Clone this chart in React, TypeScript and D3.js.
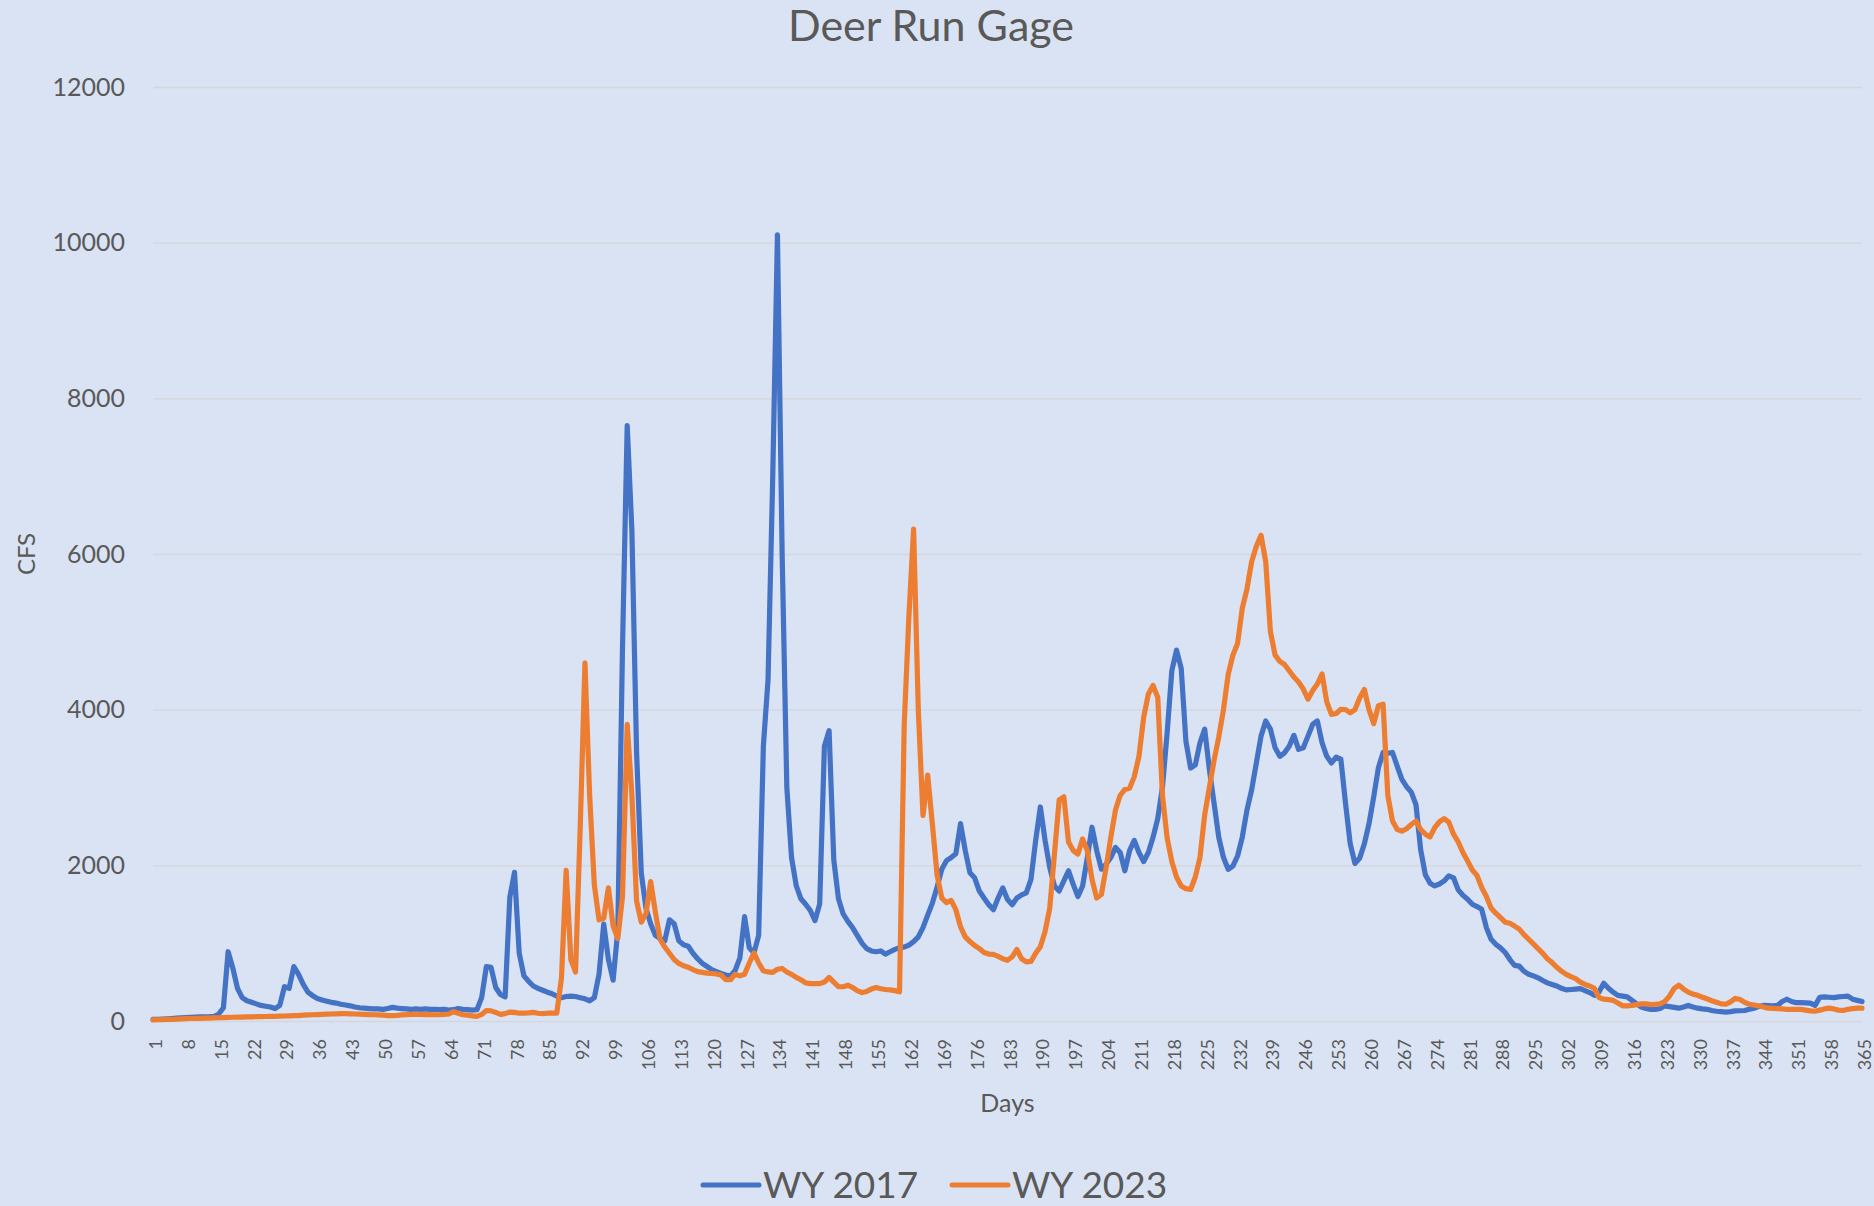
import React, { useEffect, useRef } from 'react';
import * as d3 from 'd3';

// daily flow (cfs), day 1..365
const wy2017 = [
  20, 22, 25, 28, 32, 36, 40, 45, 48, 50,
  52, 54, 55, 58, 90, 170, 890, 680, 420, 300,
  260, 240, 220, 200, 190, 180, 160, 200, 440, 420,
  700, 600, 470, 370, 325, 290, 270, 255, 240, 230,
  215, 205, 195, 180, 170, 165, 160, 155, 155, 150,
  160, 175, 165, 160, 155, 150, 155, 150, 155, 150,
  150, 145, 150, 140, 145, 160, 150, 145, 140, 145,
  300, 700, 690, 430, 340, 310, 1590, 1910, 870, 580,
  510, 450, 420, 395, 370, 350, 320, 300, 315, 320,
  315, 300, 285, 260, 300, 600, 1245, 790, 525, 1165,
  4800, 7650, 6300, 3450, 1900, 1450, 1250, 1100, 1060, 1030,
  1300, 1250, 1030, 980, 960, 870, 800, 740, 700, 660,
  635, 610, 590, 580, 650, 810, 1340, 940, 875, 1100,
  3530, 4390, 7000, 10100, 6000, 3000, 2100, 1740, 1570, 1500,
  1420, 1290, 1505, 3530, 3730, 2070, 1570, 1375, 1280, 1200,
  1100, 1000, 930, 900, 890, 900, 860, 890, 920, 940,
  950, 975, 1020, 1080, 1200, 1360, 1515, 1720, 1950, 2060,
  2100, 2150, 2535, 2190, 1905, 1840, 1670, 1580, 1495, 1430,
  1580, 1710, 1560, 1495, 1580, 1620, 1645, 1820, 2320, 2750,
  2320, 1970, 1735, 1670, 1800, 1930, 1755, 1600, 1735, 2100,
  2490, 2190, 1950, 2015, 2100, 2230, 2165, 1930, 2190, 2320,
  2165, 2050, 2165, 2360, 2600, 3000, 3700, 4500, 4765, 4530,
  3595, 3250, 3290, 3575, 3750, 3230, 2795, 2360, 2100, 1950,
  1990, 2120, 2360, 2710, 2970, 3315, 3660, 3855, 3750, 3510,
  3400, 3445, 3530, 3670, 3490, 3510, 3660, 3810, 3855, 3575,
  3400, 3315, 3390, 3365, 2795, 2275, 2025, 2090, 2275, 2535,
  2880, 3255, 3450, 3440, 3450, 3275, 3105, 3010, 2940, 2780,
  2200, 1880, 1770, 1735, 1760, 1800, 1865, 1840, 1685, 1615,
  1565, 1500, 1470, 1435, 1200, 1050, 985, 940, 880, 790,
  715, 705, 640, 600, 580, 555, 520, 490, 470, 450,
  420, 400, 405, 410, 415, 390, 365, 330, 375, 485,
  420, 370, 330, 320, 310, 265, 220, 180, 160, 150,
  150, 160, 195, 185, 175, 165, 180, 200, 180, 165,
  155, 150, 135, 125, 120, 115, 120, 130, 132, 135,
  150, 165, 185, 200, 198, 195, 200, 250, 280, 250,
  235, 235, 232, 230, 200, 305, 310, 305, 300, 310,
  315, 320, 280, 265, 250
];

const wy2023 = [
  15, 16, 18, 20, 22, 25, 27, 30, 32, 34,
  35, 37, 38, 40, 42, 44, 46, 48, 50, 50,
  52, 54, 55, 57, 58, 60, 60, 62, 64, 66,
  68, 70, 75, 78, 80, 83, 86, 88, 90, 92,
  95, 95, 92, 90, 88, 85, 82, 80, 78, 75,
  70, 68, 72, 78, 82, 85, 85, 84, 83, 82,
  80, 80, 85, 90, 120, 100, 80, 75, 65, 60,
  85, 135, 130, 110, 85, 95, 115, 110, 100, 100,
  105, 110, 100, 95, 100, 100, 100, 550, 1935, 790,
  630, 2500, 4600, 2900, 1750, 1300, 1320, 1710, 1220, 1060,
  1600, 3810, 2900, 1540, 1270, 1380, 1790, 1400, 1050, 950,
  870, 790, 740, 710, 690, 660, 635, 625, 615, 610,
  605, 590, 530, 530, 600, 580, 600, 745, 875, 745,
  645, 630, 625, 665, 675, 630, 600, 560, 530, 490,
  480, 480, 480, 500, 560, 500, 440, 440, 460, 430,
  390, 365, 380, 410, 430, 415, 405, 400, 390, 375,
  3800, 5200, 6320, 4000, 2640, 3160, 2530, 1880, 1580, 1520,
  1550, 1430, 1210, 1080, 1020, 970, 930, 880, 860, 855,
  830, 800, 780, 825, 920, 800, 760, 765, 870, 955,
  1150, 1450, 2145, 2840, 2880, 2300, 2190, 2145, 2340, 2190,
  1820, 1580, 1625, 1970, 2360, 2710, 2900, 2975, 2990, 3140,
  3400, 3900, 4200, 4310, 4160, 2900, 2350, 2050, 1850, 1735,
  1700, 1690, 1850, 2100, 2650, 3000, 3350, 3650, 4000, 4450,
  4700, 4850, 5300, 5550, 5900, 6100, 6240, 5900, 5000, 4700,
  4620, 4580, 4500, 4420, 4355, 4265, 4135, 4245, 4330, 4460,
  4100, 3940, 3950, 4005, 4000, 3960, 4000, 4150, 4260, 4000,
  3820, 4050, 4070, 2900, 2570, 2460, 2440, 2470, 2525, 2570,
  2460, 2400, 2365, 2485, 2560, 2600, 2555, 2400, 2300, 2165,
  2055, 1940, 1870, 1715, 1600, 1450, 1385, 1330, 1270, 1255,
  1220, 1180, 1110, 1050, 990, 930, 870, 800, 750, 690,
  640, 600, 570, 545, 500, 470, 450, 420, 300, 280,
  275, 265, 230, 195, 195, 200, 210, 220, 220, 210,
  215, 220, 250, 320, 420, 460, 410, 370, 345, 330,
  305, 285, 260, 240, 220, 215, 245, 290, 275, 240,
  215, 205, 195, 180, 165, 162, 160, 155, 150, 150,
  150, 150, 140, 130, 125, 140, 155, 165, 155, 140,
  135, 150, 160, 165, 165
];

const seriesNames = ['WY 2017', 'WY 2023'];
const seriesColors = ['#4472C4', '#ED7D31'];
const yTicks = [0, 2000, 4000, 6000, 8000, 10000, 12000];

const W = 1874, H = 1206;
const FONT = 'Lato, "Open Sans", sans-serif';
const TXT = '#595959';

export default function App() {
  const ref = useRef<SVGSVGElement>(null);

  useEffect(() => {
    const svg = d3.select(ref.current);
    svg.selectAll('*').remove();

    // plot area
    const left = 153, right = 1862, top = 87, bottom = 1021;

    const days = wy2017.map((_, i) => i + 1);
    const tickDays = days.filter(d => (d - 1) % 7 === 0);

    const x = d3.scaleLinear().domain([1, 365]).range([left, right]);
    const y = d3.scaleLinear().domain([0, 12000]).range([bottom, top]);

    svg.append('rect').attr('width', W).attr('height', H).attr('fill', '#DAE3F3');

    // title
    svg.append('text')
      .attr('x', 931).attr('y', 41)
      .attr('text-anchor', 'middle')
      .attr('font-family', FONT).attr('font-size', 43)
      .attr('fill', TXT)
      .text('Deer Run Gage');

    // y axis + gridlines
    const yAxis = svg.append('g')
      .attr('transform', `translate(${left},0)`)
      .call(d3.axisLeft(y).tickValues(yTicks).tickSize(-(right - left)).tickPadding(28).tickFormat(d3.format('d')));
    yAxis.select('.domain').remove();
    yAxis.selectAll('line').attr('stroke', '#D3D6DC').attr('stroke-width', 1.4);
    yAxis.selectAll('text')
      .attr('font-family', FONT).attr('font-size', 25).attr('fill', TXT);

    // x tick labels (rotated)
    svg.append('g').selectAll('text')
      .data(tickDays)
      .join('text')
      .attr('transform', d => `translate(${x(d) + 2},1039) rotate(-90)`)
      .attr('text-anchor', 'end')
      .attr('dominant-baseline', 'central')
      .attr('font-family', FONT).attr('font-size', 18)
      .attr('fill', TXT)
      .text(d => d);

    // axis titles
    svg.append('text')
      .attr('x', (left + right) / 2).attr('y', 1102)
      .attr('text-anchor', 'middle').attr('dominant-baseline', 'central')
      .attr('font-family', FONT).attr('font-size', 25).attr('fill', TXT)
      .text('Days');
    svg.append('text')
      .attr('transform', 'translate(25,554) rotate(-90)')
      .attr('text-anchor', 'middle').attr('dominant-baseline', 'central')
      .attr('font-family', FONT).attr('font-size', 24).attr('fill', TXT)
      .text('CFS');

    // lines
    const line = d3.line<number>().x((_, i) => x(i + 1)).y(d => y(d));
    svg.append('g').selectAll('path')
      .data([wy2017, wy2023])
      .join('path')
      .attr('d', d => line(d))
      .attr('fill', 'none')
      .attr('stroke', (_, i) => seriesColors[i])
      .attr('stroke-width', 5.2)
      .attr('stroke-linejoin', 'round')
      .attr('stroke-linecap', 'round');

    // legend
    const legendX = [703, 952];
    const lg = svg.append('g').selectAll('g')
      .data(seriesNames)
      .join('g')
      .attr('transform', (_, i) => `translate(${legendX[i]},0)`);
    lg.append('line')
      .attr('x1', 0).attr('x2', 56).attr('y1', 1185).attr('y2', 1185)
      .attr('stroke', (_, i) => seriesColors[i])
      .attr('stroke-width', 5).attr('stroke-linecap', 'round');
    lg.append('text')
      .attr('x', 60).attr('y', 1198)
      .attr('font-family', FONT).attr('font-size', 37).attr('fill', TXT)
      .text(d => d);
  }, []);

  return (
    <svg ref={ref} width={W} height={H}
      style={{ position: 'absolute', left: 0, top: 0, display: 'block' }} />
  );
}
